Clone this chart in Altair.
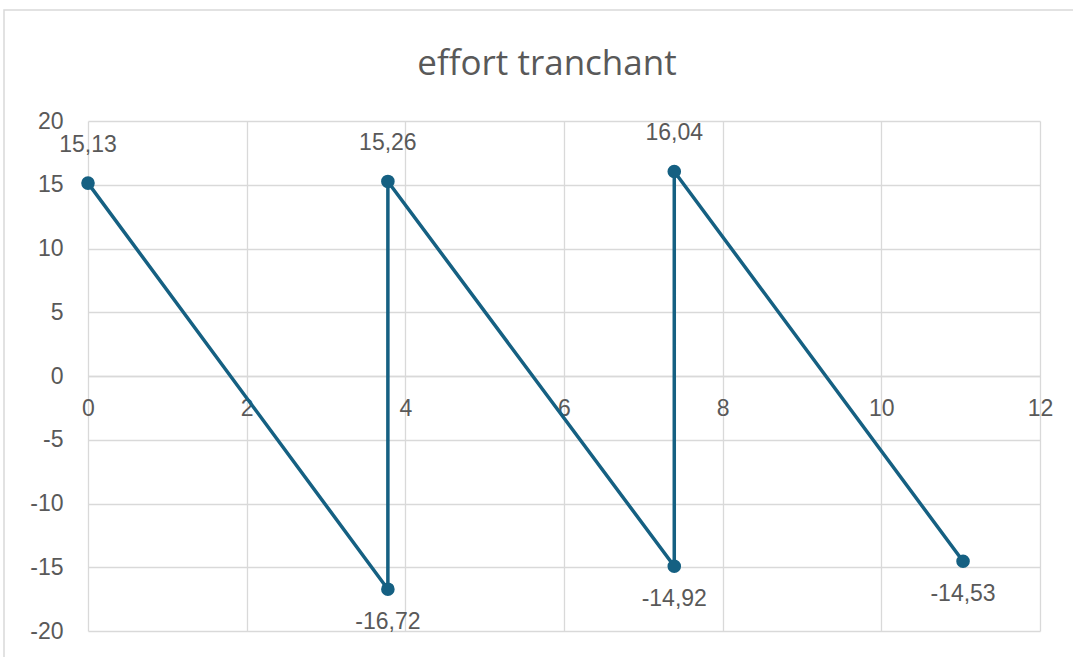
import altair as alt
import pandas as pd

# Shear force diagram (effort tranchant) along the beam
TITLE = "effort tranchant"
x_pos = [0, 3.78, 3.78, 7.39, 7.39, 11.03]
shear = [15.13, -16.72, 15.26, -14.92, 16.04, -14.53]

x_ticks = [0, 2, 4, 6, 8, 10, 12]
y_ticks = [-20, -15, -10, -5, 0, 5, 10, 15, 20]

LINE = "#156082"
GRID = "#d9d9d9"
TEXT = "#595959"
LABEL_FONT = "Liberation Sans"
FS = 23

W, H = 952, 510
PAD_L, PAD_T, PAD_R, PAD_B = 88, 121, 33, 26

df = pd.DataFrame({"i": range(len(x_pos)), "x": x_pos, "v": shear})

# plain hyphen for negative numbers
minus_fix = "replace(datum.label, '\u2212', '-')"

base = alt.Chart(df).encode(
    x=alt.X("x:Q",
            scale=alt.Scale(domain=[0, 12], nice=False),
            axis=alt.Axis(values=x_ticks, title=None, grid=True, gridColor=GRID,
                          gridWidth=1.3, domain=True, domainColor=GRID, domainWidth=1.5,
                          ticks=False, labelPadding=21, offset=-255, labelFlush=False,
                          labelFont=LABEL_FONT, labelFontSize=FS, labelColor=TEXT)),
    y=alt.Y("v:Q",
            scale=alt.Scale(domain=[-20, 20], nice=False),
            axis=alt.Axis(values=y_ticks, title=None, grid=True, gridColor=GRID,
                          gridWidth=1.3, domain=False, ticks=False, labelPadding=25,
                          labelFlush=False, labelExpr=minus_fix,
                          labelFont=LABEL_FONT, labelFontSize=FS, labelColor=TEXT)),
)

line = base.mark_line(color=LINE, strokeWidth=3.5).encode(order="i:Q")
points = base.mark_circle(color=LINE, size=185, opacity=1)

label_expr = "replace(format(datum.v, '.2f'), '.', ',')"
label_expr = "replace(" + label_expr + ", '\u2212', '-')"
labels_up = base.transform_filter("datum.v >= 0").transform_calculate(
    lab=label_expr
).mark_text(font=LABEL_FONT, fontSize=FS, color=TEXT, dy=-38).encode(text="lab:N")
labels_down = base.transform_filter("datum.v < 0").transform_calculate(
    lab=label_expr
).mark_text(font=LABEL_FONT, fontSize=FS, color=TEXT, dy=33).encode(text="lab:N")

# chart frame and title
frame = alt.Chart(pd.DataFrame({"a": [0]})).mark_rect(
    fill=None, stroke=GRID, strokeWidth=1.5
).encode(
    x=alt.value(4 - PAD_L), x2=alt.value(1100 - PAD_L),
    y=alt.value(10 - PAD_T), y2=alt.value(700 - PAD_T),
)
title = alt.Chart(pd.DataFrame({"t": [TITLE]})).mark_text(
    font="Open Sans", fontSize=35, color=TEXT, baseline="alphabetic", align="center"
).encode(text="t:N", x=alt.value(547 - PAD_L), y=alt.value(75 - PAD_T))

chart = alt.layer(frame, title, line, points, labels_up, labels_down).properties(
    width=W, height=H,
    autosize=alt.AutoSizeParams(type="none"),
    padding={"left": PAD_L, "top": PAD_T, "right": PAD_R, "bottom": PAD_B},
    background="white",
).configure_view(stroke=None)

chart.save("out.html", embed_options={"renderer": "svg", "actions": False})
